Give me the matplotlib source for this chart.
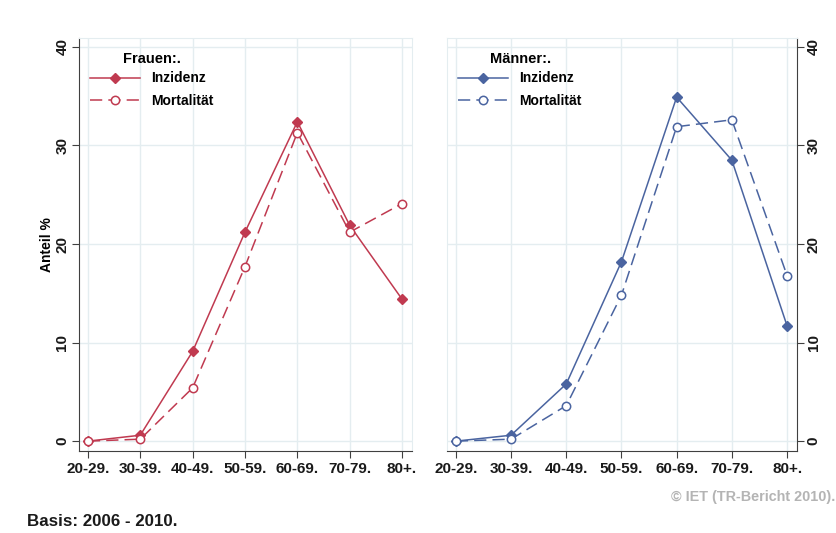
import matplotlib
matplotlib.use("Agg")
import matplotlib.pyplot as plt

plt.rcParams['font.family'] = ['Liberation Sans', 'DejaVu Sans']

categories = ["20-29.", "30-39.", "40-49.", "50-59.", "60-69.", "70-79.", "80+."]
frauen_inzidenz = [0.0, 0.6, 9.1, 21.2, 32.4, 21.9, 14.4]
frauen_mortalitaet = [0.0, 0.2, 5.4, 17.7, 31.3, 21.2, 24.1]
maenner_inzidenz = [0.0, 0.6, 5.8, 18.2, 34.9, 28.5, 11.7]
maenner_mortalitaet = [0.0, 0.2, 3.6, 14.8, 31.9, 32.6, 16.8]
yticks = [0, 10, 20, 30, 40]

RED = "#c03a50"
BLUE = "#4a64a0"
GRID = "#e4edf0"
AXC = "#404040"

W, H = 837, 533
fig = plt.figure(figsize=(W / 100, H / 100), dpi=100)
axL = fig.add_axes([79 / W, 1 - 451 / H, 333 / W, 413 / H])
axR = fig.add_axes([447 / W, 1 - 451 / H, 350 / W, 413 / H])

x = list(range(len(categories)))

def style(ax, side, title, color, inz, mort):
    ax.plot(x, inz, color=color, lw=1.1, marker="D", ms=5, mfc=color, mec=color,
            label="Inzidenz")
    ax.plot(x, mort, color=color, lw=1.1, ls=(0, (8, 4)), marker="o", ms=6,
            mfc="white", mec=color, mew=1.1, label="Mortalität")
    ax.set_ylim(-1.0, 40.9)
    ax.set_yticks(yticks)
    ax.set_xticks(x)
    ax.set_xticklabels(categories, fontsize=11, fontweight="bold", color="#1a1a1a")
    ax.set_yticklabels([str(v) for v in yticks], fontsize=11, fontweight="bold",
                       color="#1a1a1a", rotation=90, va="center")
    ax.grid(True, color=GRID, lw=1.0)
    ax.set_axisbelow(True)
    for s in ["top", "left", "right"]:
        ax.spines[s].set_color(GRID)
    ax.spines["bottom"].set_color(AXC)
    ax.spines[side].set_color(AXC)
    ax.tick_params(axis="both", colors=AXC, labelcolor="#1a1a1a", length=5, width=0.8)
    ax.tick_params(axis="x", pad=3)
    if side == "right":
        ax.yaxis.tick_right()
        ax.yaxis.set_label_position("right")
    ax.tick_params(axis="y", pad=2)
    leg = ax.legend(loc="upper left", bbox_to_anchor=(0.005, 0.99), frameon=False,
                    title=title, fontsize=10, handlelength=3.6, handletextpad=0.8,
                    labelspacing=0.62, borderaxespad=0.3)
    leg._legend_box.sep = 4
    leg.get_title().set_fontweight("bold")
    leg.get_title().set_fontsize(10.5)
    for t in leg.get_texts():
        t.set_fontweight("bold")

style(axL, "left", "Frauen:.", RED, frauen_inzidenz, frauen_mortalitaet)
axL.set_xlim(-0.17, 6.19)
axL.set_ylabel("Anteil %", fontsize=10, fontweight="bold", labelpad=1)

style(axR, "right", "Männer:.", BLUE, maenner_inzidenz, maenner_mortalitaet)
axR.set_xlim(-0.16, 6.18)

fig.text(27 / W, 1 - 522 / H, "Basis: 2006 - 2010.", fontsize=12.2, fontweight="bold",
         color="#1a1a1a", ha="left", va="center")
fig.text(835 / W, 1 - 497 / H, "© IET (TR-Bericht 2010).", fontsize=10.4, fontweight="bold",
         color="#b4b4b4", ha="right", va="center")

fig.savefig("out.png", dpi=100)
